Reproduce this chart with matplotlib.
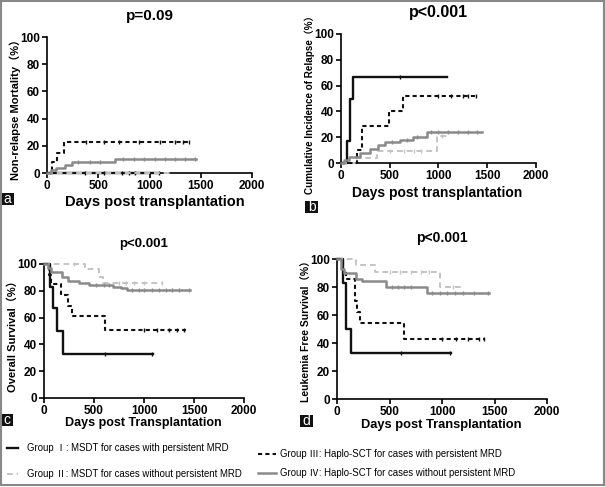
import matplotlib
matplotlib.use("Agg")
import matplotlib.pyplot as plt
from matplotlib.lines import Line2D
from matplotlib.patches import Rectangle
import numpy as np

plt.rcParams["font.family"] = ["Liberation Sans", "Noto Sans CJK SC"]

W, H = 605, 487
COLOR_G1 = "#111111"
COLOR_G2 = "#c4c4c4"
COLOR_G3 = "#111111"
COLOR_G4 = "#8a8a8a"

# panel a: non-relapse mortality (step times, values, censor times)
nrm_g1_t = [0, 1080]
nrm_g1_y = [0, 0]
nrm_g1_c = [370, 560, 730, 800, 860, 1090]
nrm_g2_t = [0, 1200]
nrm_g2_y = [0, 0]
nrm_g2_c = []
nrm_g3_t = [0, 50, 100, 166, 1400]
nrm_g3_y = [0, 8, 15, 23, 23]
nrm_g3_c = [380, 560, 700, 900, 1100, 1250, 1330, 1390]
nrm_g4_t = [0, 40, 90, 180, 240, 665, 1450]
nrm_g4_y = [0, 2, 4, 6, 8, 10, 10]
nrm_g4_c = [300, 420, 520, 740, 850, 950, 1050, 1150, 1250, 1350, 1440]

# panel b: cumulative incidence of relapse
cir_g1_t = [0, 58, 92, 126, 1084]
cir_g1_y = [0, 17, 50, 67, 67]
cir_g1_c = [610]
cir_g2_t = [0, 169, 366, 981, 1084]
cir_g2_y = [0, 4, 9, 21, 21]
cir_g2_c = [500, 650, 750, 820, 1040]
cir_g3_t = [0, 161, 212, 495, 639, 1391]
cir_g3_y = [0, 10, 29, 40, 52, 52]
cir_g3_c = [1000, 1130, 1250, 1300, 1380]
cir_g4_t = [0, 30, 80, 195, 297, 383, 451, 605, 742, 879, 1443]
cir_g4_y = [0, 2, 5, 8, 11, 14, 16, 18, 20, 24, 24]
cir_g4_c = [520, 680, 780, 920, 1000, 1100, 1200, 1300, 1400]

# panel c: overall survival
os_g1_t = [0, 60, 87, 127, 187, 1087]
os_g1_y = [100, 83, 67, 50, 33, 33]
os_g1_c = [610, 1080]
os_g2_t = [0, 410, 553, 587, 1193]
os_g2_y = [100, 96, 90, 85.5, 85.5]
os_g2_c = [300, 750, 820, 900, 1000, 1180]
os_g3_t = [0, 53, 73, 170, 243, 277, 610, 1417]
os_g3_y = [100, 92, 85, 77, 69, 61.5, 51, 51]
os_g3_c = [1000, 1130, 1250, 1330, 1400]
os_g4_t = [0, 40, 70, 177, 243, 350, 450, 690, 770, 827, 1460]
os_g4_y = [100, 97, 94, 90, 87.5, 86, 84.5, 83, 82, 80.5, 80.5]
os_g4_c = [520, 600, 650, 880, 950, 1000, 1080, 1150, 1220, 1280, 1350, 1450]

# panel d: leukemia free survival
lfs_g1_t = [0, 60, 86, 130, 1086]
lfs_g1_y = [100, 83, 50, 33, 33]
lfs_g1_c = [610, 1080]
lfs_g2_t = [0, 185, 362, 981, 1203]
lfs_g2_y = [100, 96, 91, 80, 80]
lfs_g2_c = [500, 600, 700, 800, 880, 1100]
lfs_g3_t = [0, 60, 89, 171, 194, 219, 638, 1403]
lfs_g3_y = [100, 92, 85.5, 70, 62, 54, 43, 43]
lfs_g3_c = [1000, 1130, 1250, 1350, 1400]
lfs_g4_t = [0, 40, 70, 183, 241, 463, 857, 1450]
lfs_g4_y = [100, 93, 90, 86, 84, 80, 76, 76]
lfs_g4_c = [520, 580, 640, 700, 900, 980, 1050, 1120, 1200, 1300, 1440]

legend_labels = ["Group Ⅰ: MSDT for cases with persistent MRD",
                 "Group Ⅱ: MSDT for cases without persistent MRD",
                 "Group Ⅲ: Haplo-SCT for cases with persistent MRD",
                 "Group Ⅳ: Haplo-SCT for cases without persistent MRD"]


def px_rect(x0, y0, x1, y1):
    # pixel box (top-left origin) -> figure fraction rect
    return [x0 / W, 1 - y1 / H, (x1 - x0) / W, (y1 - y0) / H]


def fx(x):
    return x / W


def fy(y):
    return 1 - y / H


STYLES = [
    dict(color=COLOR_G1, lw=1.7, ls="-"),
    dict(color=COLOR_G2, lw=1.4, ls=(0, (3, 2))),
    dict(color=COLOR_G3, lw=1.5, ls=(0, (2, 1.5))),
    dict(color=COLOR_G4, lw=1.8, ls="-"),
]


def draw_panel(rect, series):
    ax = fig.add_axes(px_rect(*rect))
    # light grey first, darker on top
    order = [1, 3, 2, 0]
    for i in order:
        t, y, c = series[i]
        ax.step(t, y, where="post", clip_on=False, zorder=3 + i, **STYLES[i])
        if c:
            idx = np.searchsorted(t, c, side="right") - 1
            cy = np.array(y)[idx]
            ax.plot(c, cy, ls="none", marker="|", ms=3.5, mew=1,
                    color=STYLES[i]["color"], clip_on=False, zorder=3 + i)
    ax.set_xlim(0, 2000)
    ax.set_ylim(0, 100)
    ax.set_xticks([0, 500, 1000, 1500, 2000])
    ax.set_yticks([0, 20, 40, 60, 80, 100])
    for s in ["top", "right"]:
        ax.spines[s].set_visible(False)
    for s in ["left", "bottom"]:
        ax.spines[s].set_linewidth(1.2)
    ax.tick_params(direction="out", length=3.5, width=1.2, labelsize=8.5, pad=1.5)
    for lab in ax.get_xticklabels() + ax.get_yticklabels():
        lab.set_fontweight("bold")
    return ax


fig = plt.figure(figsize=(W / 100, H / 100), dpi=100)

draw_panel((47, 37, 252, 173),
           [(nrm_g1_t, nrm_g1_y, nrm_g1_c), (nrm_g2_t, nrm_g2_y, nrm_g2_c),
            (nrm_g3_t, nrm_g3_y, nrm_g3_c), (nrm_g4_t, nrm_g4_y, nrm_g4_c)])
draw_panel((341, 34, 536, 163),
           [(cir_g1_t, cir_g1_y, cir_g1_c), (cir_g2_t, cir_g2_y, cir_g2_c),
            (cir_g3_t, cir_g3_y, cir_g3_c), (cir_g4_t, cir_g4_y, cir_g4_c)])
draw_panel((44, 264, 244, 398),
           [(os_g1_t, os_g1_y, os_g1_c), (os_g2_t, os_g2_y, os_g2_c),
            (os_g3_t, os_g3_y, os_g3_c), (os_g4_t, os_g4_y, os_g4_c)])
draw_panel((337, 259, 547, 399),
           [(lfs_g1_t, lfs_g1_y, lfs_g1_c), (lfs_g2_t, lfs_g2_y, lfs_g2_c),
            (lfs_g3_t, lfs_g3_y, lfs_g3_c), (lfs_g4_t, lfs_g4_y, lfs_g4_c)])

# titles
fig.text(fx(150), fy(16), "p=0.09", ha="center", va="center", fontsize=11, fontweight="bold")
fig.text(fx(438), fy(13), "p<0.001", ha="center", va="center", fontsize=11.5, fontweight="bold")
fig.text(fx(144), fy(244), "p<0.001", ha="center", va="center", fontsize=9.5, fontweight="bold")
fig.text(fx(442), fy(238), "p<0.001", ha="center", va="center", fontsize=10, fontweight="bold")

# x labels
fig.text(fx(155), fy(202), "Days post transplantation", ha="center", va="center",
         fontsize=10.5, fontweight="bold")
fig.text(fx(437), fy(193), "Days post transplantation", ha="center", va="center",
         fontsize=10, fontweight="bold")
fig.text(fx(143), fy(423), "Days post Transplantation", ha="center", va="center",
         fontsize=9, fontweight="bold")
fig.text(fx(441), fy(425), "Days post Transplantation", ha="center", va="center",
         fontsize=9.3, fontweight="bold")

# y labels
fig.text(fx(15), fy(107), "Non-relapse Mortality（%）", ha="center", va="center",
         rotation=90, fontsize=8, fontweight="bold")
fig.text(fx(310), fy(102), "Cumulative Incidence of Relapse（%）", ha="center", va="center",
         rotation=90, fontsize=7.1, fontweight="bold")
fig.text(fx(13), fy(334), "Overall Survival（%）", ha="center", va="center",
         rotation=90, fontsize=8, fontweight="bold")
fig.text(fx(307), fy(329), "Leukemia Free Survival（%）", ha="center", va="center",
         rotation=90, fontsize=7.5, fontweight="bold")

# panel letters in black boxes
for letter, (x0, y0, x1, y1) in [("a", (1, 193, 14, 205)), ("b", (305, 201, 318, 213)),
                                 ("c", (1, 414, 13, 426)), ("d", (300, 415, 313, 427))]:
    fig.add_artist(Rectangle((fx(x0), fy(y1)), fx(x1 - x0), (y1 - y0) / H,
                             transform=fig.transFigure, color="#111111", lw=0))
    fig.text(fx((x0 + x1) / 2), fy((y0 + y1) / 2), letter, ha="center", va="center",
             color="white", fontsize=10)

# legend
leg_pos = [(7, 18, 27, 448), (7, 18, 27, 474), (258, 276, 280, 454), (258, 276, 280, 473)]
for i, (lx0, lx1, tx, y) in enumerate(leg_pos):
    st = STYLES[i]
    fig.add_artist(Line2D([fx(lx0), fx(lx1)], [fy(y), fy(y)], transform=fig.transFigure,
                          color=st["color"], lw=st["lw"], ls=st["ls"]))
    fig.text(fx(tx), fy(y), legend_labels[i], ha="left", va="center", fontsize=6.9)

# outer frame
fig.add_artist(Rectangle((fx(1), fy(485)), fx(603), 484 / H, transform=fig.transFigure,
                         fill=False, ec="#888888", lw=1.5))

fig.savefig("out.png", dpi=100)
